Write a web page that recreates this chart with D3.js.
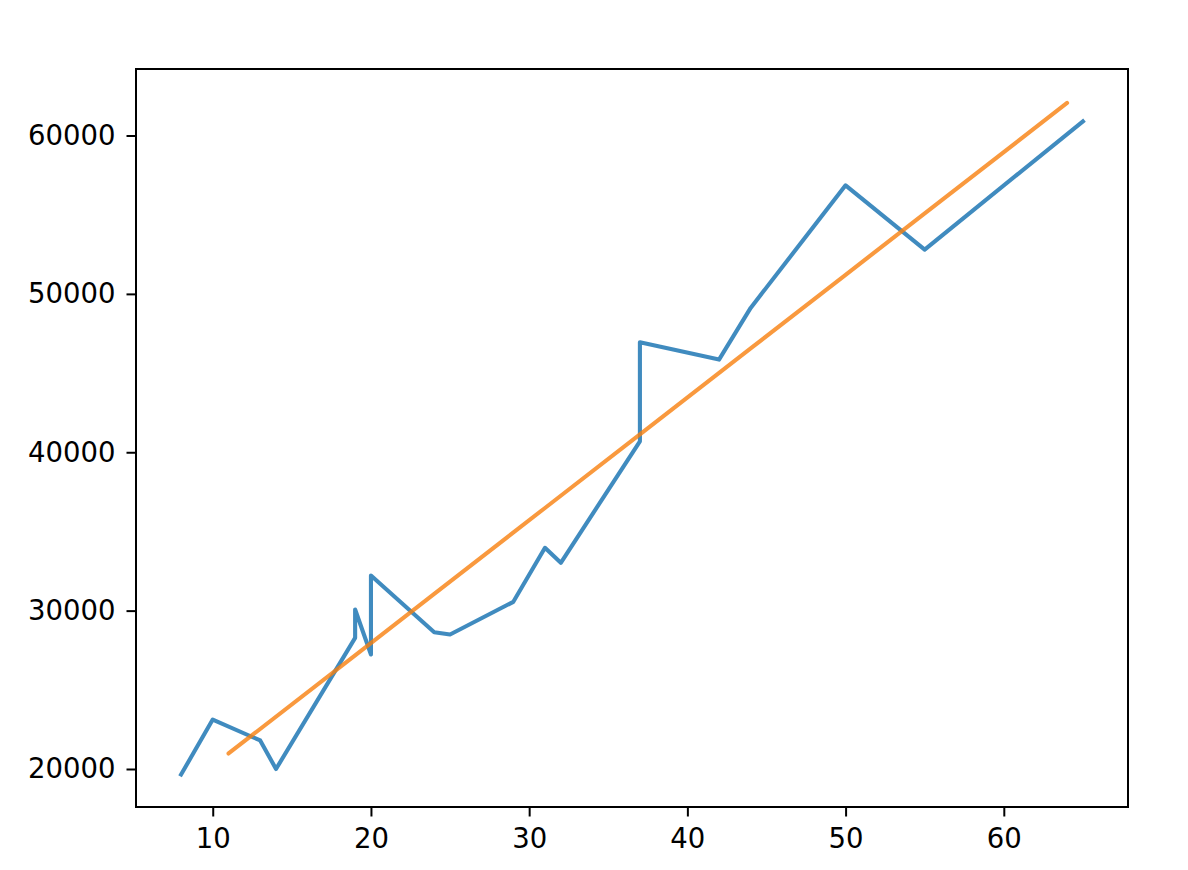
<!DOCTYPE html>
<html>
<head>
<meta charset="utf-8">
<script src="https://cdn.jsdelivr.net/npm/d3@7"></script>
<style>
  html, body { margin: 0; padding: 0; background: #ffffff; }
  svg { display: block; }
</style>
</head>
<body>
<script>
// Actual values (blue line)
const actualX = [8, 10, 13, 14, 19, 19, 20, 20, 24, 25, 29, 31, 32, 37, 37, 42, 44, 50, 55, 65];
const actualY = [19650, 23125, 21800, 20000, 28280, 30070, 27230, 32215, 28636, 28491, 30555, 33965, 33018, 40694, 46944, 45852, 49116, 56856, 52797, 60896];

// Predicted values (orange regression line)
const predX = [11, 19, 24, 31, 37, 44, 50, 56, 64];
const predY = [20980, 27180, 31055, 36480, 41130, 46555, 51205, 55855, 62055];

// Tick labels
const xTicks = [10, 20, 30, 40, 50, 60];
const yTicks = [20000, 30000, 40000, 50000, 60000];

const W = 1188, H = 870;
const margin = { left: 136, top: 69, right: W - 1128, bottom: H - 807 };
const iw = W - margin.left - margin.right;
const ih = H - margin.top - margin.bottom;

const svg = d3.select("body").append("svg")
  .attr("width", W).attr("height", H);

const g = svg.append("g").attr("transform", `translate(${margin.left},${margin.top})`);

const x = d3.scaleLinear().domain([5.15, 67.85]).range([0, iw]);
const y = d3.scaleLinear().domain([17600, 64200]).range([ih, 0]);

const line = d3.line().x(d => x(d[0])).y(d => y(d[1]));

const actual = actualX.map((v, i) => [v, actualY[i]]);
const pred = predX.map((v, i) => [v, predY[i]]);

g.append("path").datum(actual)
  .attr("d", line)
  .attr("fill", "none")
  .attr("stroke", "#1f77b4")
  .attr("stroke-opacity", 0.85)
  .attr("stroke-width", 4.1)
  .attr("stroke-linejoin", "round")
  .attr("stroke-linecap", "square");

g.append("path").datum(pred)
  .attr("d", line)
  .attr("fill", "none")
  .attr("stroke", "#f77f0e")
  .attr("stroke-opacity", 0.8)
  .attr("stroke-width", 4.1)
  .attr("stroke-linejoin", "round")
  .attr("stroke-linecap", "round");

const font = "'DejaVu Sans', sans-serif";

const xAxis = g.append("g").attr("transform", `translate(0,${ih})`)
  .call(d3.axisBottom(x).tickValues(xTicks).tickSize(9.5).tickPadding(12).tickFormat(d3.format("d")));
const yAxis = g.append("g")
  .call(d3.axisLeft(y).tickValues(yTicks).tickSize(9.5).tickPadding(11).tickFormat(d3.format("d")));

[xAxis, yAxis].forEach(a => {
  a.select(".domain").remove();
  a.selectAll(".tick line").attr("stroke", "#000").attr("stroke-width", 2);
  a.selectAll(".tick text").attr("fill", "#000")
    .style("font-family", font).style("font-size", "27.5px");
});

// spines
g.append("rect")
  .attr("x", 0).attr("y", 0).attr("width", iw).attr("height", ih)
  .attr("fill", "none").attr("stroke", "#000").attr("stroke-width", 2);
</script>
</body>
</html>
